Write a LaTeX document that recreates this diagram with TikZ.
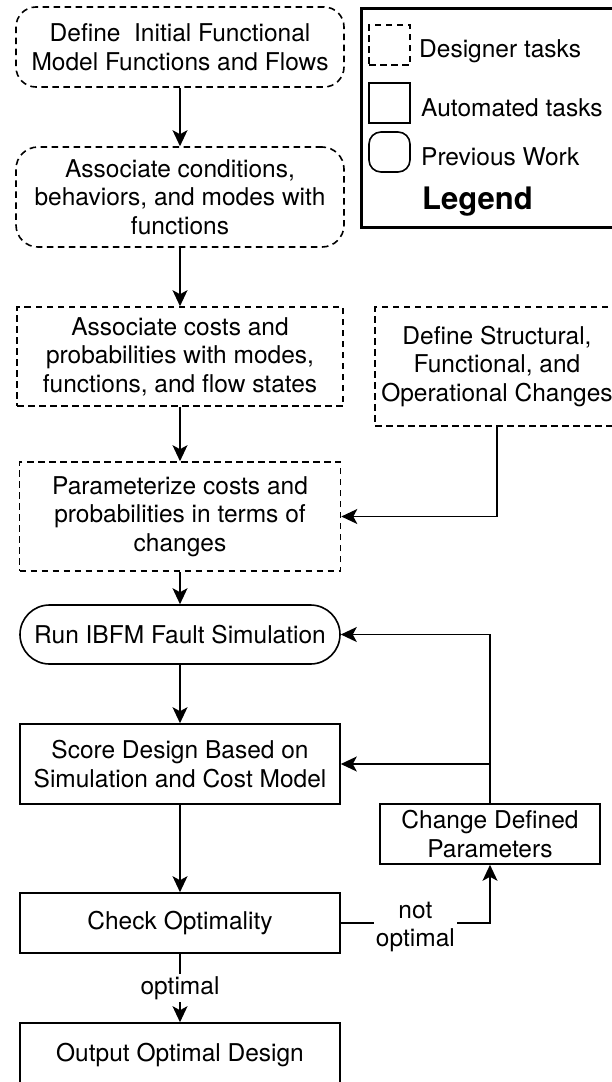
\documentclass[tikz,border=0pt]{standalone}
\usepackage{fontspec}
\setmainfont{TeX Gyre Heros}
\usetikzlibrary{arrows.meta}
\begin{document}
\begin{tikzpicture}[x=1pt,y=-1pt,
  every node/.style={font=\fontsize{24.5}{28.5}\selectfont, align=center, inner sep=0pt},
  task/.style={draw, line width=1.6pt},
  designer/.style={task, dash pattern=on 6.5pt off 4.5pt},
  flow/.style={line width=1.6pt, -{Stealth[length=16pt,width=15pt,inset=4pt]}},
  tag/.style={fill=white, inner sep=2pt},
  legendtext/.style={anchor=west},
]
\useasboundingbox (0,0) rectangle (612,1082);
\fill[white] (0,0) rectangle (612,1082);
\clip (0,0) rectangle (612,1082);

% main column of steps
\node[designer, rounded corners=20pt, minimum width=328pt, minimum height=80pt] (fm) at (180,47)
  {Define~ Initial Functional\\Model Functions and Flows};
\node[designer, rounded corners=22pt, minimum width=328pt, minimum height=100pt] (cond) at (180,197)
  {Associate conditions,\\behaviors, and modes with\\functions};
\node[designer, minimum width=326pt, minimum height=99pt] (cost) at (180,356.5)
  {Associate costs and\\probabilities with modes,\\functions, and flow states};
\node[designer, minimum width=244pt, minimum height=119pt] (chg) at (497,366.5)
  {Define Structural,\\Functional, and\\Operational Changes};
\node[designer, minimum width=321pt, minimum height=109pt] (par) at (180,516.5)
  {Parameterize costs and\\probabilities in terms of\\changes};
\node[task, rounded corners=29.5pt, minimum width=320pt, minimum height=59pt] (run) at (180,634.5)
  {Run IBFM Fault Simulation};
\node[task, minimum width=320pt, minimum height=80pt] (score) at (180,764)
  {Score Design Based on\\Simulation and Cost Model};
\node[task, minimum width=220pt, minimum height=60pt] (param) at (490,834)
  {Change Defined\\Parameters};
\node[task, minimum width=320pt, minimum height=60pt] (check) at (180,923)
  {Check Optimality};
\node[task, minimum width=320pt, minimum height=64pt] (out) at (180,1055)
  {Output Optimal Design};

% connectors
\draw[flow] (fm.south) -- (cond.north);
\draw[flow] (cond.south) -- (cost.north);
\draw[flow] (cost.south) -- (par.north);
\draw[flow] (chg.south) |- (par.east);
\draw[flow] (par.south) -- (run.north);
\draw[flow] (run.south) -- (score.north);
\draw[flow] (score.south) -- (check.north);
\draw[flow] (param.north) |- (run.east);
\draw[flow] (param.north) |- (score.east);
\draw[flow] (check.east) -| node[tag, pos=0.25, yshift=-4pt] {not\\optimal} (param.south);
\draw[flow] (check.south) -- node[tag] {optimal} (out.north);

% legend
\draw[line width=3pt] (361,8) rectangle (640,227);
\node[designer, minimum width=41pt, minimum height=40pt] (kd) at (389.5,45) {};
\node[task, minimum width=41pt, minimum height=40pt] (ka) at (389.5,103) {};
\node[task, rounded corners=12pt, minimum width=41pt, minimum height=40pt] (kp) at (389.5,152) {};
\node[legendtext] (td) at (419,51) {Designer tasks};
\node[legendtext] (ta) at (421,108) {Automated tasks};
\node[legendtext] (tp) at (421,157) {Previous Work};
\node[legendtext, font=\fontsize{31}{36}\selectfont\bfseries] (tl) at (422,202) {Legend};
\end{tikzpicture}
\end{document}
